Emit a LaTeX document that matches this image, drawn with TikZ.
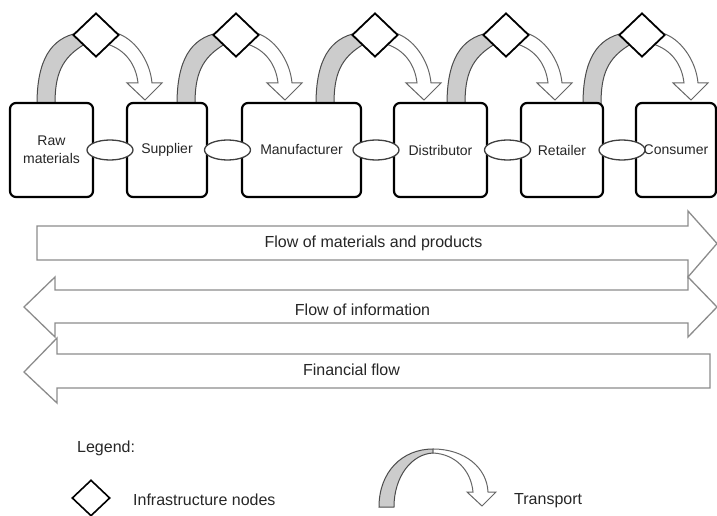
\documentclass[tikz,border=0pt]{standalone}
\usepackage{fontspec}
\setmainfont{Liberation Sans}
\usetikzlibrary{shapes.geometric,calc}
\begin{document}
\begin{tikzpicture}[x=1pt,y=-1pt,
  stagebox/.style={draw=black,line width=2.2pt,rounded corners=6pt,fill=white,inner sep=0pt,minimum height=94pt,font=\fontsize{14}{18}\selectfont,align=center,text=black!85},
  link/.style={ellipse,draw=black!75,line width=1.3pt,fill=white,minimum width=46pt,minimum height=20pt,inner sep=0pt},
  infra/.style={diamond,aspect=1,draw=black,line width=1.8pt,fill=white,minimum width=46pt,minimum height=44pt,inner sep=0pt},
  band/.style={draw=black!70,line width=1pt,fill=black!20},
  openarrow/.style={draw=black!60,line width=1pt,fill=white},
  flow/.style={draw=black!45,line width=1.3pt,fill=white},
  lab/.style={font=\fontsize{16}{18}\selectfont,text=black!85,inner sep=0pt},
]
\useasboundingbox (0,0) rectangle (717,516);

% infrastructure node positions
\coordinate (c1) at (96,35);
\coordinate (c2) at (236,35);
\coordinate (c3) at (375,35);
\coordinate (c4) at (506,35);
\coordinate (c5) at (642,35);

% transport bands (gray part, from box up to node)
\foreach \c in {c1,c2,c3,c4,c5}{
  \begin{scope}[shift={(\c)}]
    \path[band] (-59,69) .. controls (-59,25) and (-45,3) .. (-18,-2) -- (-11,9)
      .. controls (-35,23) and (-41,40) .. (-41,69) -- cycle;
  \end{scope}
}

% stage boxes
\node[stagebox,minimum width=83pt] (raw) at (51.5,150) {Raw\\materials};
\node[stagebox,minimum width=80pt] (sup) at (167,150) {Supplier};
\node[stagebox,minimum width=119pt] (man) at (301.5,150) {Manufacturer};
\node[stagebox,minimum width=93pt] (dis) at (440.5,150) {Distributor};
\node[stagebox,minimum width=82pt] (ret) at (562,150) {Retailer};
\node[stagebox,minimum width=80pt] (con) at (676,150) {Consumer};

% transport arrows (white part, from node down to next box)
\foreach \c in {c1,c2,c3,c4,c5}{
  \begin{scope}[shift={(\c)}]
    \path[openarrow] (20,-2) .. controls (38,3) and (54,25) .. (56,48) -- (66,48) -- (49,65)
      -- (31,48) -- (42,48) .. controls (40,30) and (30,15) .. (11,9) -- cycle;
  \end{scope}
}

% infrastructure nodes
\node[infra] (n1) at (c1) {};
\node[infra] (n2) at (c2) {};
\node[infra] (n3) at (c3) {};
\node[infra] (n4) at (c4) {};
\node[infra] (n5) at (c5) {};

% links between stages
\node[link] (e1) at (110,150) {};
\node[link] (e2) at (227.5,150) {};
\node[link] (e3) at (376,150) {};
\node[link] (e4) at (507.5,150) {};
\node[link] (e5) at (622,150) {};

% flows
\path[flow] (37,226) -- (688,226) -- (688,211) -- (717,243.5) -- (688,277) -- (688,260) -- (37,260) -- cycle;
\path[flow] (55,290) -- (688,290) -- (688,277) -- (717,307) -- (688,337) -- (688,323)
  -- (55,323) -- (55,337) -- (24,307) -- (55,277) -- cycle;
\path[flow] (57,354) -- (710,354) -- (710,388) -- (57,388) -- (57,403) -- (24,372) -- (57,338) -- cycle;

\node[lab] (fmat) at (373.5,243) {Flow of materials and products};
\node[lab] (finf) at (362.5,310) {Flow of information};
\node[lab] (ffin) at (351.5,370) {Financial flow};

% legend
\node[lab,anchor=west] (leg) at (77,448) {Legend:};
\node[infra,minimum width=38pt,minimum height=36pt,line width=1.6pt] (ldia) at (91,498) {};
\node[lab,anchor=west] (linf) at (133,500) {Infrastructure nodes};

\path[band] (379,507) .. controls (379,472) and (402,449) .. (433,449) -- (433,453)
  .. controls (412,454) and (394,476) .. (394,507) -- cycle;
\path[openarrow] (433,449) .. controls (465,449) and (487,468) .. (488,492) -- (496,492) -- (482,506)
  -- (467,492) -- (473,492) .. controls (471,470) and (455,454) .. (433,453) -- cycle;
\node[lab,anchor=west] (ltr) at (514,501) {Transport};
\end{tikzpicture}
\end{document}
